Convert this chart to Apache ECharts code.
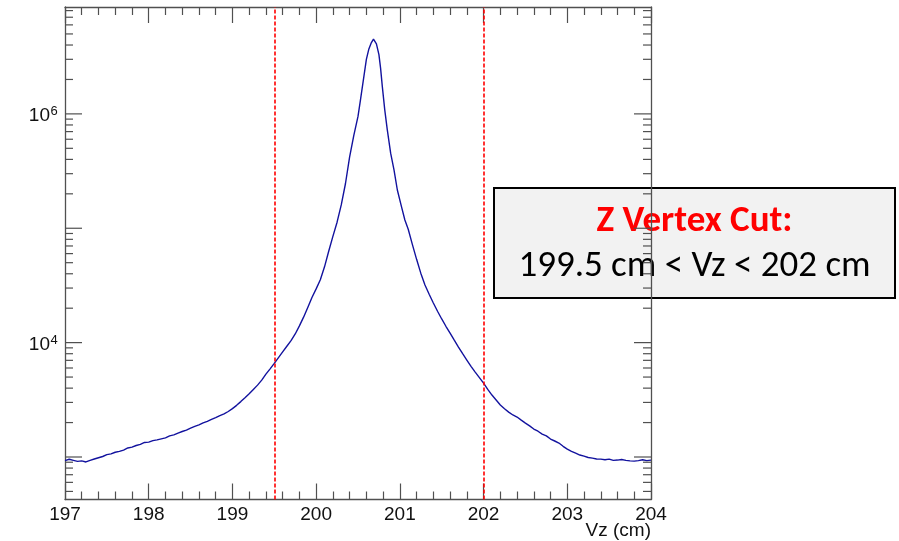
<!DOCTYPE html>
<html>
<head>
<meta charset="utf-8">
<script src="https://cdn.jsdelivr.net/npm/echarts@6/dist/echarts.min.js"></script>
<style>html,body{margin:0;padding:0;background:#fff;}#c{width:899px;height:541px;}</style>
</head>
<body>
<div id="c"></div>
<script>
// ---- data ----
var vz = [
197.00,197.05,197.10,197.15,197.20,197.25,197.30,197.35,197.40,197.45,
197.50,197.55,197.60,197.65,197.70,197.75,197.80,197.85,197.90,197.95,
198.00,198.05,198.10,198.15,198.20,198.25,198.30,198.35,198.40,198.45,
198.50,198.55,198.60,198.65,198.70,198.75,198.80,198.85,198.90,198.95,
199.00,199.05,199.10,199.15,199.20,199.25,199.30,199.35,199.40,199.45,
199.50,199.55,199.60,199.65,199.70,199.75,199.80,199.85,199.90,199.95,
200.00,200.05,200.10,200.15,200.20,200.25,200.30,200.35,200.40,200.45,
200.50,200.53,200.57,200.60,200.63,200.66,200.685,200.70,200.72,200.75,
200.77,200.79,200.82,200.85,200.89,200.93,200.97,201.02,201.06,201.10,
201.15,201.20,201.25,201.30,201.35,201.40,201.45,201.50,201.55,201.60,
201.65,201.70,201.75,201.80,201.85,201.90,201.95,202.00,202.05,202.10,
202.15,202.20,202.25,202.30,202.35,202.40,202.45,202.50,202.55,202.60,
202.65,202.70,202.75,202.80,202.85,202.90,202.95,203.00,203.05,203.10,
203.15,203.20,203.25,203.30,203.35,203.40,203.45,203.50,203.55,203.60,
203.65,203.70,203.75,203.80,203.85,203.90,203.95,204.00
];
var counts = [
930,955,935,915,925,905,935,960,985,1010,
1050,1065,1100,1120,1150,1200,1220,1260,1290,1340,
1350,1390,1410,1440,1470,1530,1560,1620,1670,1720,
1790,1850,1910,1990,2050,2130,2210,2300,2380,2500,
2650,2830,3050,3300,3580,3900,4250,4700,5300,5900,
6590,7400,8300,9300,10400,11900,14000,16700,20300,24800,
29500,35500,46000,63000,85000,113000,160000,245000,420000,650000,
950000,1330000,2120000,3000000,3700000,4200000,4500000,4450000,4100000,3300000,
2500000,1750000,1080000,724000,453000,324000,216000,154000,118000,98000,
72000,53500,40500,31900,26500,22200,18800,16100,13900,12100,
10500,9150,8000,7040,6200,5530,4950,4430,3900,3480,
3150,2850,2640,2470,2330,2235,2100,1980,1870,1755,
1680,1585,1530,1435,1380,1325,1240,1170,1120,1080,
1040,1018,990,978,960,958,945,958,935,940,
950,935,925,920,930,945,930,940
];
var cutLines = [199.5, 202];
var xTicks = [197, 198, 199, 200, 201, 202, 203, 204];
var yTickValues = [
500,600,700,800,900,
1000,2000,3000,4000,5000,6000,7000,8000,9000,
10000,20000,30000,40000,50000,60000,70000,80000,90000,
100000,200000,300000,400000,500000,600000,700000,800000,900000,
1000000,2000000,3000000,4000000,5000000,6000000,7000000,8000000
];
var yLabelDecades = [4, 6];
var boxTitle = 'Z Vertex Cut:';
var boxText = '199.5 cm < Vz < 202 cm';
var xName = 'Vz (cm)';

// ---- chart ----
var chart = echarts.init(document.getElementById('c'), null, {renderer: 'canvas'});
var AX = '#505050';
var FONT = '"Liberation Sans", Arial, Helvetica, sans-serif';
var BOXFONT = 'Carlito, Calibri, "Open Sans", sans-serif';
var series = vz.map(function (x, i) { return [x, counts[i]]; });

function xAxisCfg(pos, labels) {
  return {
    type: 'value', position: pos, min: xTicks[0], max: xTicks[xTicks.length - 1], interval: 1,
    axisLine: {show: true, onZero: false, lineStyle: {color: AX, width: 1.3}},
    axisTick: {show: true, inside: true, length: 16, lineStyle: {color: AX, width: 1.2}},
    minorTick: {show: true, splitNumber: 5, length: 8, lineStyle: {color: AX, width: 1.2}},
    splitLine: {show: false},
    axisLabel: {show: labels, fontSize: 19, color: '#111', margin: 6, fontFamily: FONT}
  };
}
function yAxisCfg(pos) {
  return {
    type: 'log', logBase: 10, position: pos, min: 425, max: 8.6e6,
    axisLine: {show: true, lineStyle: {color: AX, width: 1.3}},
    axisTick: {show: false}, minorTick: {show: false},
    splitLine: {show: false}, axisLabel: {show: false}
  };
}

var option = {
  animation: false,
  backgroundColor: '#fff',
  grid: {left: 65, right: 248, top: 7, bottom: 41.5},
  xAxis: [xAxisCfg('bottom', true), xAxisCfg('top', false)],
  yAxis: [yAxisCfg('left'), yAxisCfg('right')],
  series: [
    {
      type: 'line', data: series, showSymbol: false, symbol: 'none',
      lineStyle: {color: '#12129e', width: 1.4}, z: 3,
      markLine: {
        silent: true, symbol: ['none', 'none'], label: {show: false},
        lineStyle: {color: '#ff0000', type: [4, 2], width: 1.6},
        data: cutLines.map(function (v) { return {xAxis: v}; })
      }
    },
    {
      type: 'custom', clip: false, silent: true, z: 4,
      data: yTickValues.map(function (v) { return [xTicks[0], v]; }),
      renderItem: function (params, api) {
        var v = api.value(1);
        var pl = api.coord([xTicks[0], v]);
        var pr = api.coord([xTicks[xTicks.length - 1], v]);
        var lg = Math.log10(v);
        var dec = Math.round(lg);
        var major = Math.abs(lg - dec) < 1e-9;
        var len = major ? 17 : 8;
        var st = {stroke: AX, lineWidth: 1.2};
        var children = [
          {type: 'line', shape: {x1: pl[0], y1: pl[1], x2: pl[0] + len, y2: pl[1]}, style: st},
          {type: 'line', shape: {x1: pr[0], y1: pr[1], x2: pr[0] - len, y2: pr[1]}, style: st}
        ];
        if (major && yLabelDecades.indexOf(dec) >= 0) {
          children.push({type: 'text', style: {text: '10', x: pl[0] - 15, y: pl[1] + 2,
            align: 'right', verticalAlign: 'middle', fill: '#111', font: '19px ' + FONT}});
          children.push({type: 'text', style: {text: String(dec), x: pl[0] - 14.5, y: pl[1] + 4,
            align: 'left', verticalAlign: 'bottom', fill: '#111', font: '13px ' + FONT}});
        }
        return {type: 'group', children: children};
      }
    }
  ],
  graphic: [
    {type: 'text', right: 248, top: 521, style: {text: xName, fill: '#111', font: '19px ' + FONT}},
    {
      type: 'group', left: 493, top: 187,
      children: [
        {type: 'rect', shape: {x: 0, y: 0, width: 401, height: 110},
          style: {fill: '#f2f2f2', stroke: '#000', lineWidth: 2}},
        {type: 'text', style: {text: boxTitle, x: 200.5, y: 34, align: 'center', verticalAlign: 'middle',
          fill: '#ff0000', font: 'bold 37px ' + BOXFONT}},
        {type: 'text', style: {text: boxText, x: 200.5, y: 79, align: 'center', verticalAlign: 'middle',
          fill: '#000', font: '37px ' + BOXFONT}}
      ]
    }
  ]
};
chart.setOption(option);
</script>
</body>
</html>
